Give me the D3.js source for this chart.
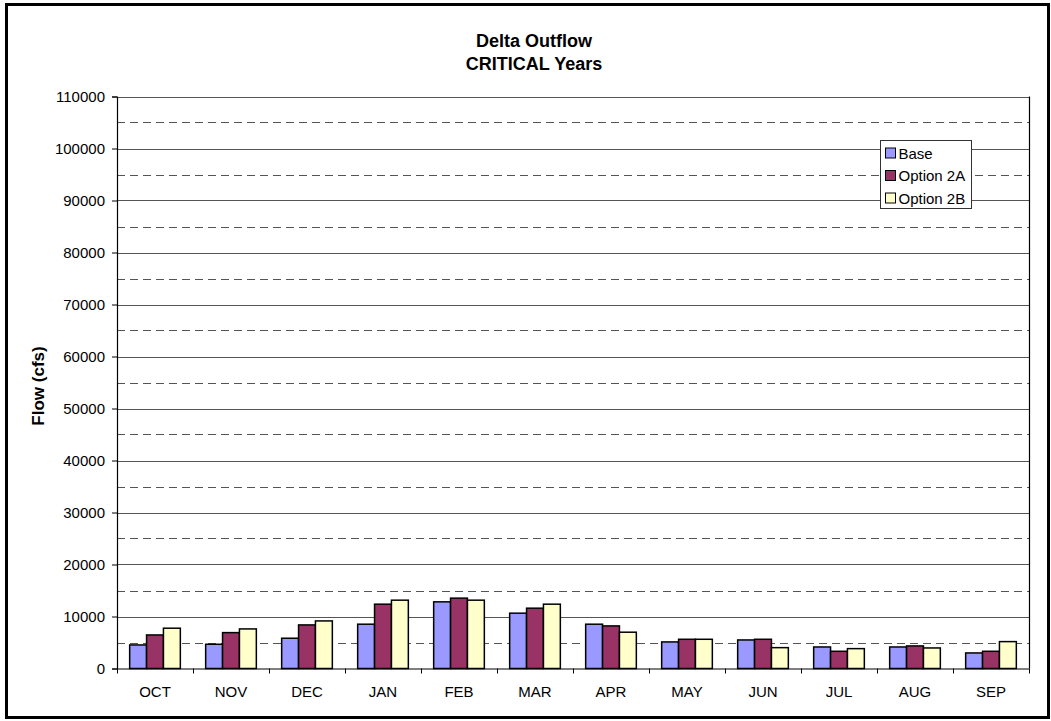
<!DOCTYPE html>
<html>
<head>
<meta charset="utf-8">
<script src="https://cdn.jsdelivr.net/npm/d3@7"></script>
<style>
  html, body { margin: 0; padding: 0; background: #fff; }
  svg { display: block; font-family: Arial, "Liberation Sans", sans-serif; }
</style>
</head>
<body>
<svg id="chart" width="1051" height="721"></svg>
<script>
const months = ["OCT","NOV","DEC","JAN","FEB","MAR","APR","MAY","JUN","JUL","AUG","SEP"];
const seriesNames = ["Base","Option 2A","Option 2B"];
const baseValues = [4530, 4660, 5820, 8520, 12820, 10640, 8520, 5110, 5490, 4140, 4140, 2990];
const option2AValues = [6450, 6900, 8380, 12370, 13530, 11600, 8190, 5620, 5620, 3310, 4340, 3310];
const option2BValues = [7750, 7610, 9150, 13140, 13140, 12370, 6980, 5620, 4010, 3820, 3950, 5170];
const seriesColors = ["#9999FF", "#993366", "#FFFFCC"];
const yTicks = [0,10000,20000,30000,40000,50000,60000,70000,80000,90000,100000,110000];
const yMinorLines = [5000,15000,25000,35000,45000,55000,65000,75000,85000,95000,105000];
const titleLines = ["Delta Outflow", "CRITICAL Years"];
const yAxisTitle = "Flow (cfs)";

const seriesValues = [baseValues, option2AValues, option2BValues];
const data = months.map((m, i) => ({
  month: m,
  values: seriesNames.map((s, j) => ({ series: s, value: seriesValues[j][i] }))
}));

const svg = d3.select("#chart");
const plot = { left: 117, right: 1029, top: 96.5, bottom: 668.5 };

// outer border
svg.append("rect")
  .attr("x", 6.5).attr("y", 4.5)
  .attr("width", 1042).attr("height", 713)
  .attr("fill", "#fff").attr("stroke", "#000").attr("stroke-width", 3);

const x0 = d3.scaleBand().domain(months).range([plot.left, plot.right]).padding(0);
const bw = x0.bandwidth();
const x1 = d3.scaleBand().domain(seriesNames).range([bw / 6, bw * 5 / 6]).padding(0);
const y = d3.scaleLinear().domain([0, 110000]).range([plot.bottom, plot.top]);

// gridlines
svg.append("g").selectAll("line.major")
  .data(yTicks.filter(t => t > 0))
  .join("line")
  .attr("x1", plot.left).attr("x2", plot.right)
  .attr("y1", d => Math.round(y(d)) + 0.5).attr("y2", d => Math.round(y(d)) + 0.5)
  .attr("stroke", "#555").attr("stroke-width", 1);

svg.append("g").selectAll("line.minor")
  .data(yMinorLines)
  .join("line")
  .attr("x1", plot.left).attr("x2", plot.right)
  .attr("y1", d => Math.round(y(d)) + 0.5).attr("y2", d => Math.round(y(d)) + 0.5)
  .attr("stroke", "#555").attr("stroke-width", 1)
  .attr("stroke-dasharray", "8,5");

// right border of plot
svg.append("line")
  .attr("x1", plot.right + 0.5).attr("x2", plot.right + 0.5)
  .attr("y1", plot.top).attr("y2", plot.bottom)
  .attr("stroke", "#000").attr("stroke-width", 1.2);

// bars
const groups = svg.append("g").selectAll("g")
  .data(data)
  .join("g")
  .attr("transform", d => `translate(${x0(d.month)},0)`);

groups.selectAll("rect")
  .data(d => d.values)
  .join("rect")
  .attr("x", d => x1(d.series))
  .attr("y", d => y(d.value))
  .attr("width", x1.bandwidth())
  .attr("height", d => y(0) - y(d.value))
  .attr("fill", (d, i) => seriesColors[i])
  .attr("stroke", "#000").attr("stroke-width", 1.5);

// y axis
const yAxis = d3.axisLeft(y).tickValues(yTicks).tickSize(5).tickPadding(7).tickFormat(d3.format("d"));
const yg = svg.append("g").attr("transform", `translate(${plot.left},0)`).call(yAxis);
yg.select(".domain").attr("stroke", "#000").attr("stroke-width", 1.2);
yg.selectAll(".tick line").attr("stroke", "#000");
yg.selectAll(".tick text").attr("font-size", 15).attr("fill", "#000")
  .attr("font-family", "Arial, 'Liberation Sans', sans-serif");

// x axis
const xAxis = d3.axisBottom(x0).tickSize(0).tickPadding(18);
const xg = svg.append("g").attr("transform", `translate(0,${plot.bottom})`).call(xAxis);
xg.select(".domain").attr("stroke", "#000").attr("stroke-width", 1.2);
xg.selectAll(".tick text").attr("font-size", 15).attr("fill", "#000")
  .attr("font-family", "Arial, 'Liberation Sans', sans-serif");
// category separator ticks
svg.append("g").selectAll("line")
  .data(months.concat(["__end"]))
  .join("line")
  .attr("x1", (d, i) => Math.round(plot.left + i * bw) + 0.5)
  .attr("x2", (d, i) => Math.round(plot.left + i * bw) + 0.5)
  .attr("y1", plot.bottom).attr("y2", plot.bottom + 5)
  .attr("stroke", "#000").attr("stroke-width", 1);

// title
svg.append("text")
  .attr("x", 534).attr("y", 47)
  .attr("text-anchor", "middle").attr("font-size", 18).attr("font-weight", "bold")
  .text(titleLines[0]);
svg.append("text")
  .attr("x", 534).attr("y", 70)
  .attr("text-anchor", "middle").attr("font-size", 18).attr("font-weight", "bold")
  .text(titleLines[1]);

// y axis title
svg.append("text")
  .attr("transform", `translate(44,386) rotate(-90)`)
  .attr("text-anchor", "middle").attr("font-size", 17).attr("font-weight", "bold")
  .text(yAxisTitle);

// legend
const legend = svg.append("g").attr("transform", "translate(880.5,140.5)");
legend.append("rect")
  .attr("width", 91).attr("height", 68)
  .attr("fill", "#fff").attr("stroke", "#333").attr("stroke-width", 1);
const items = legend.selectAll("g.item")
  .data(seriesNames)
  .join("g")
  .attr("transform", (d, i) => `translate(5,${12.5 + i * 22.5})`);
items.append("rect")
  .attr("x", 0).attr("y", -5).attr("width", 10).attr("height", 10)
  .attr("fill", (d, i) => seriesColors[i]).attr("stroke", "#000").attr("stroke-width", 1);
items.append("text")
  .attr("x", 13).attr("y", 5.5)
  .attr("font-size", 15).attr("fill", "#000")
  .text(d => d);
</script>
</body>
</html>
